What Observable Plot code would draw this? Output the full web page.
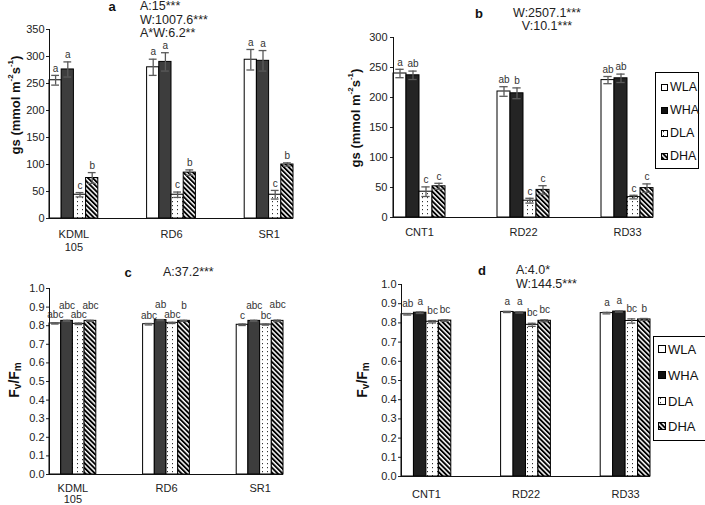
<!DOCTYPE html>
<html><head><meta charset="utf-8">
<script src="https://cdn.jsdelivr.net/npm/d3@7"></script>
<script src="https://cdn.jsdelivr.net/npm/@observablehq/plot@0.6"></script>
<style>
body{margin:0;background:#fff;overflow:hidden;font-family:"Liberation Sans",Arial,sans-serif;}
#root{position:relative;width:705px;height:505px;overflow:hidden;background:#fff;}
.panel{position:absolute;}
.legend{position:absolute;border:1px solid #000;background:#fff;box-sizing:border-box;}
.litem{position:absolute;display:flex;align-items:center;color:#111;line-height:1;}
.litem svg{margin-right:2px;}
</style></head>
<body>
<svg width="0" height="0" style="position:absolute">
<defs>
<pattern id="dots" patternUnits="userSpaceOnUse" width="5" height="4">
<rect width="5" height="4" fill="#fff"/>
<rect x="2" y="1" width="1" height="1.2" fill="#333"/>
</pattern>
<pattern id="hatch" patternUnits="userSpaceOnUse" width="3.4" height="3.4" patternTransform="rotate(-45)">
<rect width="3.4" height="3.4" fill="#fff"/>
<rect width="1.9" height="3.4" fill="#000"/>
</pattern>
</defs></svg>
<div id="root"></div>
<script>
// ---------- data ----------
const treatments = ["WLA", "WHA", "DLA", "DHA"];

// panel a : gs, varieties 1
const catsA = ["KDML\n105", "RD6", "SR1"];
const aWLA = [256, 280, 294];
const aWHA = [276, 290, 292];
const aDLA = [44, 44, 44];
const aDHA = [75, 85, 100];
const aErrWLA = [9, 15, 19];
const aErrWHA = [14, 17, 19];
const aErrDLA = [4, 5, 8];
const aErrDHA = [10, 5, 3];
const aLetters = [["a","a","c","b"], ["a","a","c","b"], ["a","a","c","b"]];

// panel b : gs, varieties 2
const catsB = ["CNT1", "RD22", "RD33"];
const bWLA = [240, 210, 229];
const bWHA = [237, 207, 232];
const bDLA = [43, 28, 34];
const bDHA = [52, 46, 49];
const bErrWLA = [7, 8, 6];
const bErrWHA = [7, 9, 7];
const bErrDLA = [8, 4, 3];
const bErrDHA = [5, 7, 7];
const bLetters = [["a","ab","c","c"], ["ab","b","c","c"], ["ab","ab","c","c"]];

// panel c : Fv/Fm, varieties 1
const cWLA = [0.812, 0.808, 0.805];
const cWHA = [0.826, 0.830, 0.826];
const cDLA = [0.810, 0.815, 0.806];
const cDHA = [0.826, 0.826, 0.826];
const cErrWLA = [0.003, 0.004, 0.004];
const cErrWHA = [0.003, 0.003, 0.003];
const cErrDLA = [0.004, 0.003, 0.003];
const cErrDHA = [0.003, 0.003, 0.004];
const cLetters = [["abc","abc","abc","abc"], ["abc","ab","abc","b"], ["c","abc","bc","abc"]];

// panel d : Fv/Fm, varieties 2
const dWLA = [0.845, 0.857, 0.851];
const dWHA = [0.853, 0.854, 0.859];
const dDLA = [0.806, 0.790, 0.810];
const dDHA = [0.812, 0.811, 0.818];
const dErrWLA = [0.004, 0.003, 0.004];
const dErrWHA = [0.004, 0.003, 0.003];
const dErrDLA = [0.006, 0.008, 0.011];
const dErrDHA = [0.004, 0.005, 0.005];
const dLetters = [["ab","a","bc","bc"], ["a","a","bc","bc"], ["a","a","bc","b"]];

const yTicksA = [0, 50, 100, 150, 200, 250, 300, 350];
const yTicksB = [0, 50, 100, 150, 200, 250, 300];
const yTicksF = [0, 0.1, 0.2, 0.3, 0.4, 0.5, 0.6, 0.7, 0.8, 0.9, 1.0];

const annA = ["A:15***", "W:1007.6***", "A*W:6.2**"];
const annB = ["W:2507.1***", "V:10.1***"];
const annC = ["A:37.2***"];
const annD = ["A:4.0*", "W:144.5***"];

// ---------- drawing ----------
const root = document.getElementById("root");
const FONT = "'Liberation Sans', Arial, Helvetica, sans-serif";

function panel(o) {
  const rows = [];
  o.cats.forEach((c, ci) => treatments.forEach((t, ti) => {
    const v = o.series[ti][ci], e = o.errs[ti][ci];
    rows.push({c, t, ti, x1: ci * 8 + ti, x2: ci * 8 + ti + 1, v, lo: v - e, hi: v + e, letter: o.letters[ci][ti]});
  }));
  const centers = o.cats.map((c, ci) => ({c, x: ci * 8 + 2}));
  const errStyle = {stroke: "#5a5a5a", strokeWidth: 1.3};
  const svg = Plot.plot({
    width: o.width, height: o.height,
    marginLeft: o.m[0], marginRight: o.m[1], marginTop: o.m[2], marginBottom: o.m[3],
    style: {fontFamily: FONT, fontSize: "11px", color: "#222", background: "transparent", overflow: "visible"},
    x: {domain: [0, 20], axis: null},
    y: {domain: [0, o.ymax], ticks: o.yticks, tickFormat: o.yfmt, tickSize: 3, tickPadding: o.tp, label: null},
    color: {domain: treatments, range: ["#ffffff", o.wha, "url(#dots)", "url(#hatch)"]},
    marks: [
      Plot.rect(rows, {x1: "x1", x2: "x2", y1: 0, y2: "v", fill: "t", stroke: "#000", strokeWidth: 1}),
      Plot.ruleX(rows, {x: d => d.x1 + 0.5, y1: "lo", y2: "hi", ...errStyle}),
      Plot.ruleY(rows, {y: "hi", x1: d => d.x1 + 0.18, x2: d => d.x2 - 0.18, ...errStyle}),
      Plot.ruleY(rows, {y: "lo", x1: d => d.x1 + 0.18, x2: d => d.x2 - 0.18, ...errStyle}),
      Plot.text(rows.filter(d => d.ti % 2 === 0), {x: d => d.x1 + 0.5, y: "hi", text: "letter", dy: o.ldy[0], fontSize: 10, fill: "#333"}),
      Plot.text(rows.filter(d => d.ti % 2 === 1), {x: d => d.x1 + 0.5, y: "hi", text: "letter", dy: o.ldy[1], fontSize: 10, fill: "#333"}),
      Plot.ruleY([0], {stroke: "#111", strokeWidth: 1}),
      Plot.ruleX([0], {stroke: "#111", strokeWidth: 1}),
      Plot.text(centers, {x: "x", text: "c", frameAnchor: "bottom", lineAnchor: "top", dy: o.xdy, lineHeight: o.lh, fontSize: 11, fill: "#222"})
    ]
  });
  const div = document.createElement("div");
  div.className = "panel";
  div.style.left = o.left + "px";
  div.style.top = o.top + "px";
  div.style.width = o.width + "px";
  div.style.height = o.height + "px";
  div.appendChild(svg);
  root.appendChild(div);
}

const f1 = d3.format(".1f");
panel({left: 0, top: 0, width: 350, height: 250, m: [49, 57, 29, 32], ymax: 350, yticks: yTicksA, yfmt: d => d, tp: 2,
  cats: catsA, series: [aWLA, aWHA, aDLA, aDHA], errs: [aErrWLA, aErrWHA, aErrDLA, aErrDHA], letters: aLetters,
  wha: "#3d3d3d", ldy: [-7, -7], xdy: 10, lh: 1.18});
panel({left: 350, top: 0, width: 355, height: 250, m: [43, 52, 37, 33], ymax: 300, yticks: yTicksB, yfmt: d => d, tp: 3,
  cats: catsB, series: [bWLA, bWHA, bDLA, bDHA], errs: [bErrWLA, bErrWHA, bErrDLA, bErrDHA], letters: bLetters,
  wha: "#242424", ldy: [-7, -7], xdy: 9.5, lh: 1.18});
panel({left: 0, top: 250, width: 350, height: 255, m: [49, 67, 38, 31], ymax: 1, yticks: yTicksF, yfmt: f1, tp: 2,
  cats: catsA, series: [cWLA, cWHA, cDLA, cDHA], errs: [cErrWLA, cErrWHA, cErrDLA, cErrDHA], letters: cLetters,
  wha: "#3d3d3d", ldy: [-8, -15], xdy: 9.5, lh: 1.0});
panel({left: 350, top: 250, width: 355, height: 255, m: [51, 55, 34, 29], ymax: 1, yticks: yTicksF, yfmt: f1, tp: 2,
  cats: catsB, series: [dWLA, dWHA, dDLA, dDHA], errs: [dErrWLA, dErrWHA, dErrDLA, dErrDHA], letters: dLetters,
  wha: "#1f1f1f", ldy: [-10, -10], xdy: 14, lh: 1.0});

// ---------- overlay: titles, annotations, axis titles ----------
const ov = d3.select(root).append("svg")
  .attr("width", 705).attr("height", 505)
  .style("position", "absolute").style("left", 0).style("top", 0)
  .style("pointer-events", "none")
  .attr("font-family", FONT);

function title(x, y, s) {
  ov.append("text").attr("x", x).attr("y", y).attr("text-anchor", "middle")
    .attr("dominant-baseline", "central").attr("font-weight", "bold").attr("font-size", 13).attr("fill", "#111").text(s);
}
function ann(lines, x, ys, anchor) {
  lines.forEach((s, i) => ov.append("text").attr("x", x).attr("y", ys[i]).attr("text-anchor", anchor)
    .attr("dominant-baseline", "central").attr("font-size", 12.5).attr("fill", "#222").text(s));
}
title(112, 6.5, "a"); ann(annA, 140, [6, 19.5, 33], "start");
title(479, 13, "b"); ann(annB, 547, [12.5, 26], "middle");
title(128, 272, "c"); ann(annC, 163, [272], "start");
title(482, 270, "d"); ann(annD, 516, [270, 283.5], "start");

function gsTitle(x, y) {
  const t = ov.append("text").attr("transform", `translate(${x},${y}) rotate(-90)`)
    .attr("text-anchor", "middle").attr("dominant-baseline", "central")
    .attr("font-weight", "bold").attr("font-size", 13).attr("fill", "#111");
  t.append("tspan").text("gs (mmol m");
  t.append("tspan").attr("font-size", 8).attr("dy", -5).text("-2");
  t.append("tspan").attr("dy", 5).text("s");
  t.append("tspan").attr("font-size", 8).attr("dy", -5).text("-1");
  t.append("tspan").attr("dy", 5).text(")");
}
function fvTitle(x, y) {
  const t = ov.append("text").attr("transform", `translate(${x},${y}) rotate(-90)`)
    .attr("text-anchor", "middle").attr("dominant-baseline", "central")
    .attr("font-weight", "bold").attr("font-size", 14).attr("fill", "#111");
  t.append("tspan").text("F");
  t.append("tspan").attr("font-size", 10).attr("dy", 3).text("v");
  t.append("tspan").attr("dy", -3).text("/F");
  t.append("tspan").attr("font-size", 10).attr("dy", 3).text("m");
}
gsTitle(15, 105);
gsTitle(355, 118);
fvTitle(14, 380);
fvTitle(362, 380);

// ---------- legends ----------
const fills = {WLA: "#fff", WHA: "#111", DLA: "url(#dots)", DHA: "url(#hatch)"};
function legend(box, xs, ys, fs, sw) {
  const b = document.createElement("div");
  b.className = "legend";
  Object.assign(b.style, {left: box[0] + "px", top: box[1] + "px", width: box[2] + "px", height: box[3] + "px"});
  root.appendChild(b);
  treatments.forEach((t, i) => {
    const it = document.createElement("div");
    it.className = "litem";
    Object.assign(it.style, {left: xs + "px", top: (ys[i] - fs / 2) + "px", fontSize: fs + "px", height: fs + "px"});
    it.innerHTML = `<svg width="${sw + 1}" height="${sw + 1}"><rect x="0.5" y="0.5" width="${sw}" height="${sw}" fill="${fills[t]}" stroke="#000" stroke-width="1"/></svg><span>${t}</span>`;
    root.appendChild(it);
  });
}
legend([655, 72, 44, 97], 661, [87, 110, 133, 156], 12.5, 6);
legend([653, 336, 57, 105], 658, [349, 375, 401, 426], 13, 7);
</script>
</body></html>
